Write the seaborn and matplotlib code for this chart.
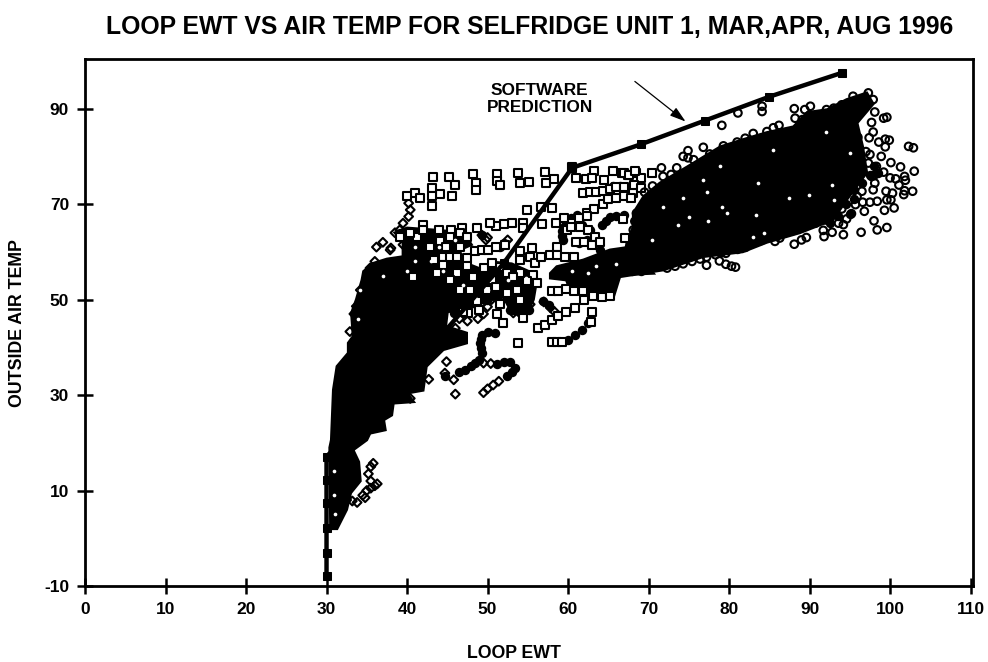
import matplotlib
matplotlib.use("Agg")
import matplotlib.pyplot as plt
import pandas as pd
import seaborn as sns

TITLE = "LOOP EWT VS AIR TEMP FOR SELFRIDGE UNIT 1, MAR,APR, AUG 1996"
X_TICKS = list(range(0, 111, 10))
Y_TICKS = list(range(-10, 91, 20))

# software prediction curve
pred_x = [30, 30, 30, 30, 30, 30, 44, 52, 60.5, 69, 77, 85, 94]
pred_y = [-8, -3.1, 2.1, 7.4, 12.2, 17.1, 42, 57.6, 77.6, 82.5, 87.5, 92.5, 97.5]

# saturated regions, where the overlapping markers merge into solid black (outlines)
mar_sat = [(30.4, 19), (30.6, 20.6), (30.85, 31.1), (31.3, 36), (32.7, 38.8), (32.7, 40.9), (33.3, 42.3), (33.1, 47.2),
           (33.7, 50), (34.4, 54.1), (34.6, 55.9), (35.8, 57.6), (37.5, 58.5), (39.5, 59), (39.5, 62.5), (41.6, 62.5),
           (42.9, 58.3), (43, 54.8), (46.6, 54.1), (45.8, 50), (45, 47.2), (44.8, 44.4), (47.4, 43), (47.4, 40.9),
           (44.5, 39.5), (42.4, 36), (42, 31), (40, 30.4), (40.8, 28.6), (38.3, 28.3), (38.1, 25.8), (37.1, 24.8),
           (37.3, 22.7), (35.4, 22), (35, 20.6), (33.3, 18.5), (34, 16), (34.2, 12), (33, 9.5), (32.5, 6), (31.3, 2),
           (30.5, 2)]
apr_sat = [(57.8, 55.5), (58.6, 56.9), (61.9, 58.3), (65.2, 60.4), (68.1, 61.1), (70.6, 55.5), (66.5, 55.2), (65.6, 50.3),
           (64, 50.3), (63.6, 51.5), (60.2, 52.2), (59.8, 54.1), (57.8, 54.5)]
aug_sat = [(66.5, 54.8), (71.8, 56.2), (76.8, 59), (81.7, 60), (84.7, 62), (88.8, 64), (92.9, 66.7), (94.6, 70.9),
           (97.1, 76.6), (96.6, 82), (95.9, 87), (97.9, 91), (97.1, 93.3), (94.6, 91.9), (92.2, 89.8), (89.7, 89.2),
           (88, 86.2), (84.7, 85), (81.7, 83.5), (78.9, 82), (74.8, 77.8), (71.4, 74.4), (69.4, 71.6), (68.1, 68.1),
           (68.1, 65.3), (67.3, 61.8)]
# crowded mixed regions: black with pale squares lying on top
mid_low = [(42.9, 58), (46, 58.5), (49, 56.5), (51, 57.8), (53, 57.5), (55, 56), (56, 53), (55.7, 50), (55, 47.5),
           (53, 47.3), (52, 50.5), (49.5, 49.5), (47, 47.5), (45, 47.5)]
mid_top = [(38.5, 64), (40, 65), (44, 64.5), (47, 64), (48, 61.5), (46, 60), (43, 59.5), (41, 59)]

# small unfilled gaps inside the saturated regions
gaps = [(77.2, 72.5), (77.4, 66.4), (79.1, 69.5), (87.4, 71.3), (89.9, 72), (92.8, 74), (83.6, 74.4), (73.7, 65.7),
        (70.4, 62.5), (74.3, 71.3), (75, 67.4), (71.8, 69.5), (95, 80.7), (93, 70.9), (83, 63.2), (84.3, 64),
        (83.4, 67.8), (79.7, 68.1), (76.8, 75.1), (78.9, 77.9), (92.1, 85.2), (85.5, 81.4), (30.9, 14), (30.9, 9),
        (31, 5), (60.5, 56), (63.5, 57), (66, 57.5), (62.5, 55.5), (37, 55), (34.2, 52), (33.9, 46), (40, 56), (41, 58),
        (43, 58), (44.5, 56), (47, 53), (50, 52), (48.5, 50.5), (52.5, 54), (54.8, 54.5), (41, 61), (44, 61), (46, 62.5)]

# strings and patches so crowded that the markers read as solid
dark_pts = [(46.4, 34.9), (47.2, 35.3), (48, 36), (48.5, 36.7), (48.9, 37.4), (49.3, 38.8), (49.2, 39.8), (49.1, 40.9),
            (49.2, 41.8), (49.3, 42.6), (50.1, 43.3), (50.9, 43), (51.2, 36.6), (52, 37), (52.8, 37), (53.4, 35.6),
            (53, 34.8), (52.4, 33.9), (44.7, 34), (39.1, 63.9), (40, 61.8), (41.2, 63.2), (42.4, 61.1), (43.7, 62.9),
            (44.9, 61.8), (46.6, 62.5), (49.3, 63.6), (43.7, 57.6), (44.9, 57.6), (46.6, 56.9), (48.2, 55.5), (46.6, 53.5),
            (48.2, 52), (49.9, 53.5), (50.7, 56.2), (52, 57.6), (51.6, 53.5), (52.8, 54.8), (54, 52.8), (54.9, 51.4),
            (53.6, 49.3), (54.5, 48.6), (53.2, 47.9), (55.1, 47.9), (49.9, 50), (47.4, 49.3), (45.8, 47.2), (44.9, 48.6),
            (52, 61.8), (51.6, 61.1), (64.2, 65.7), (64.7, 66.5), (65.2, 67.4), (66, 67.6), (66.9, 67.8), (59.2, 64.3),
            (59.5, 65.2), (59.8, 66), (59.3, 63.4), (59.4, 62.5), (60.4, 67), (61.1, 67.8), (61.7, 65.7), (62.7, 64.6),
            (63.3, 63.2), (61.3, 61.8), (62.3, 62.5), (64, 60.4), (65.6, 73.7), (66.5, 73.7), (67.5, 72.3), (60, 41.6),
            (60.9, 42.6), (61.7, 43.7), (62.5, 45), (52.8, 47.9), (54, 49.3), (54.9, 49.3), (54, 47.9), (57.6, 48.9),
            (56.9, 49.6), (95.5, 75), (96, 77), (95.5, 73), (96.5, 74.5), (97.5, 76), (98, 78), (98.5, 76.5), (94.5, 70),
            (95, 68), (93.5, 67.5), (95.5, 71), (88, 64.5), (86, 65), (84, 62.5), (81, 60.5), (82, 61), (90, 66), (91.5, 68),
            (92.5, 66), (79, 60), (75, 59), (71.5, 57.5), (69, 56), (68, 56)]

# March: diamonds
mar_pts = [(35.8, 15.7), (35.5, 15), (35.2, 13.5), (35.5, 12), (36, 11), (36.3, 11.4), (35.5, 10.5), (35, 10), (33.2, 7.8),
           (33.8, 7.5), (32.5, 8), (34.5, 9), (34.8, 8.5), (37, 62), (36.2, 61), (37.9, 60.4), (35.4, 56.6), (36, 58),
           (34.2, 52), (32.9, 43.3), (33.7, 48.6), (33.4, 47), (39.1, 64.6), (38.5, 64), (39.5, 66), (40.2, 67.4),
           (40.4, 68.8), (40.2, 70.2), (38, 60.8), (39.5, 61.5), (40.5, 60), (41.5, 60.5), (42.5, 59), (43, 60),
           (43.8, 57), (45, 56), (46, 54), (46.5, 50), (47.5, 49), (48.5, 50.5), (49.5, 50), (50.5, 50), (51, 51),
           (50, 48.5), (49.5, 47), (48.8, 46), (47.5, 45.5), (46.5, 46), (46, 44), (53.2, 47.2), (53.8, 47.5), (54.4, 48),
           (55, 48.5), (55.3, 49), (54.6, 47.3), (53.6, 48.5), (54.2, 49), (57, 49.5), (57.8, 48.3), (58.3, 47.5),
           (52.5, 62.5), (49.3, 63.5), (49.8, 62.5), (50, 63), (49.5, 36.7), (50.4, 36.6), (50.7, 32.1), (49.5, 30.5),
           (50, 31.3), (51.4, 32.9), (44.7, 34.6), (45.8, 33.2), (42.7, 33.3), (46, 30.2), (40.4, 29.3), (44.9, 37)]

# April: squares
apr_pts = [(43.2, 75.7), (45.2, 75.7), (46, 74), (45.6, 71.6), (44.1, 72.2), (43.1, 73.4), (43.1, 71.6), (43.1, 69.7),
           (41, 72.4), (40, 71.6), (41.6, 71.3), (48.2, 76.4), (48.6, 74.4), (48.6, 73), (51.2, 76.4), (51.2, 74.9),
           (51.6, 74), (53.8, 76.6), (54, 74.5), (55.2, 74.6), (57.1, 76.8), (57.3, 74.5), (58.3, 75.2), (60.5, 77.8),
           (61, 75.5), (62.2, 75.2), (63.2, 77), (63, 75.5), (64.5, 75), (65.6, 77), (66.7, 76.6), (67.5, 76), (68.4, 76.5),
           (70.4, 76.5), (69, 75.5), (61.9, 72.3), (62.7, 72.5), (63.5, 72.5), (64.4, 72.8), (65.2, 73.2), (66, 73.5),
           (67, 73.5), (68.1, 72.3), (68.2, 73.9), (69, 73.4), (66.9, 71.8), (67.8, 71.3), (62.4, 68.2), (63.2, 69),
           (64.3, 70), (65, 71), (65.9, 71.3), (54.9, 68.8), (56.6, 69.5), (58, 69.2), (56.8, 65.9), (54.4, 66), (54.4, 65),
           (53, 66), (52, 65.8), (51, 65.4), (50.3, 66), (48.7, 65), (46.8, 65), (45.5, 64.6), (44, 64.6), (42, 65.7),
           (58.5, 66), (59.5, 67), (60.5, 66), (61.3, 67), (62.3, 67.5), (59.9, 64.6), (60.4, 65.3), (61.5, 65.3),
           (62.5, 64.6), (63.3, 63.2), (61, 62), (62, 62), (63, 61.5), (64, 62), (56.3, 44), (57.1, 44.7), (58, 45.8),
           (58.8, 46.5), (59.8, 47.5), (60.9, 48.3), (62, 50), (58, 51.8), (58.8, 51.9), (59.8, 52.2), (60.7, 51.7),
           (61.9, 51.7), (63.1, 50.7), (64.2, 50.5), (65.2, 50.7), (58, 41.2), (58.6, 41.2), (59.2, 41.2), (62.8, 45.4),
           (63, 47.5), (53.8, 41), (51.9, 45), (54.4, 46.2), (51.2, 47), (51.5, 49), (44.5, 59), (45.3, 59), (46.2, 59),
           (47.4, 58.7), (48.5, 60.1), (49.3, 60.4), (50.1, 60.4), (51.1, 61.1), (52.2, 61.5), (54, 60.1), (55.5, 60.8),
           (55.3, 59), (54, 58.3), (55.9, 57.6), (56.7, 59), (57.8, 59.4), (58.6, 61.1), (58.6, 59.4), (59.6, 59), (60.7, 59),
           (51.6, 56.9), (52.4, 55.5), (54, 55.5), (55.7, 55.2), (54.9, 53.8), (56.1, 53.4), (53.2, 54.8), (50.5, 54.1),
           (51.1, 52.7), (52.4, 51.4), (53.6, 52), (54, 50), (48.7, 49.6), (47.6, 47.2), (47, 47.5), (49, 47.8), (49.9, 52),
           (47.8, 52), (46.2, 55.5), (47.4, 57), (44.5, 57.3), (42.9, 61.1), (44.1, 62.2), (45.3, 63.2), (46.6, 64),
           (47.4, 63.2), (44.9, 61.1), (46.6, 61.1), (43.3, 58.3), (40.8, 54.8), (43.7, 55.5), (45.3, 54.1), (46.6, 52),
           (48.2, 54.8), (49.5, 56.6), (50.5, 57.6), (41.2, 63.2), (42, 64.6), (40.4, 64), (39.1, 63.2), (66.9, 76.5),
           (67.6, 76.2), (68.3, 76.9), (67.1, 62.9), (66.8, 66.8)]

# August: circles
aug_pts = [(103, 76.9), (102.3, 82.1), (102.9, 81.8), (101.3, 77.8), (100.1, 78.7), (101.8, 75.8), (101.9, 75), (100.7, 75.3),
           (100, 75.5), (101.1, 74), (102.8, 72.7), (101.7, 72), (101.8, 72.8), (100.3, 72.3), (99.5, 72.7), (99.6, 70.9),
           (100.1, 70.9), (100.5, 69.2), (99.3, 68.7), (98, 66.5), (98.4, 64.6), (99.6, 65.1), (96.4, 64.1), (94.2, 63.6),
           (92.8, 64.1), (91.7, 64.5), (91.8, 63.2), (98.4, 70.6), (97.5, 70.4), (96.6, 70.4), (95.7, 69.9), (95.9, 71.6),
           (96.5, 72.7), (97.9, 73), (98.9, 80), (99.2, 76.7), (99.4, 82), (98.6, 83), (99.4, 83.6), (99.9, 83.4),
           (97.4, 83.9), (97.9, 85.1), (97.7, 87.1), (99.2, 88), (99.6, 88.2), (98.1, 89.3), (97.5, 80.4), (97.3, 78.6),
           (98.3, 77.9), (97.7, 75.8), (98.1, 74.4), (84.1, 90.5), (84.1, 89.4), (81.1, 89.1), (79.1, 86.5), (88.1, 90),
           (88.2, 88), (89.1, 87.7), (90.1, 90.5), (89.4, 89.8), (76.8, 81.9), (74.9, 81.2), (77.6, 80.5), (71.6, 77.6),
           (74.3, 80), (74.9, 79.7), (75.6, 79.3), (77.2, 57.2), (78.8, 58.1), (79.6, 57.4), (80.3, 57), (80.8, 56.8),
           (79.6, 59.7), (78.3, 59.4), (77.2, 58.9), (76.4, 58.5), (75.4, 58), (74.3, 57.5), (73.3, 57), (72.3, 56.6),
           (88.1, 61.6), (89.6, 63), (89, 62.5), (86.3, 62.9), (85.7, 62.2), (87.4, 64.3), (94.2, 65.7), (94.6, 66.9),
           (93.6, 66), (93, 68), (92, 66.7), (90.7, 66), (84.7, 85.2), (85.5, 86), (86.2, 86.5), (83, 84.8), (82, 83.8),
           (81, 83), (79.3, 82.2), (92.1, 89.8), (93, 90.1), (94, 90.8), (95.4, 92.6), (97.3, 93.3), (97.9, 91.9),
           (68.5, 68.1), (68.3, 66.4), (68.1, 64.6), (73.5, 77.6), (71.8, 75.8), (95, 87.8), (96, 84), (97, 81), (98, 76),
           (96.8, 68.5), (95.2, 68), (94, 69), (78, 79.5), (80, 81), (72.8, 76.2), (70.5, 73.8), (69.5, 72.5)]


def frame(points, month):
    return pd.DataFrame(points, columns=["ewt", "air"]).assign(month=month)


sns.set_theme(style="white")
plt.rcParams["font.family"] = ["Liberation Sans", "DejaVu Sans"]
plt.rcParams["font.weight"] = "bold"
plt.rcParams["axes.unicode_minus"] = False
plt.rcParams["text.color"] = "black"

fig = plt.figure(figsize=(9.88, 6.62), dpi=100)
ax = fig.add_axes([85 / 988, 1 - 586 / 662, (973 - 85) / 988, (586 - 59) / 662])

for poly in (mar_sat, apr_sat, aug_sat, mid_low, mid_top):
    ax.fill(*zip(*poly), color="black", lw=2, zorder=2)

sns.scatterplot(data=frame(dark_pts, "dense"), x="ewt", y="air", marker="o", s=46, color="black", linewidth=0,
                ax=ax, zorder=2, legend=False)

sns.scatterplot(data=frame(mar_pts, "Mar"), x="ewt", y="air", marker="D", s=20, facecolor="none",
                edgecolor="black", linewidth=1.5, ax=ax, zorder=3, legend=False)
sns.scatterplot(data=frame(apr_pts, "Apr"), x="ewt", y="air", marker="s", s=30, facecolor="white",
                edgecolor="black", linewidth=1.5, ax=ax, zorder=3, legend=False)
sns.scatterplot(data=frame(aug_pts, "Aug"), x="ewt", y="air", marker="o", s=30, facecolor="none",
                edgecolor="black", linewidth=1.5, ax=ax, zorder=3, legend=False)

sns.scatterplot(data=frame(gaps, "gap"), x="ewt", y="air", marker="o", s=7, color="white", linewidth=0,
                ax=ax, zorder=4, legend=False)
sns.lineplot(x=pred_x, y=pred_y, color="black", lw=3.2, marker="s", markersize=6, markeredgecolor="black",
             sort=False, estimator=None, ax=ax, zorder=5)

ax.annotate("", xy=(74.6, 87.3), xytext=(68.3, 95.7), zorder=6,
            arrowprops=dict(arrowstyle="-|>,head_length=0.8,head_width=0.25", color="black", lw=0.9,
                            shrinkA=0, shrinkB=0))
ax.text(56.5, 92.1, "SOFTWARE\nPREDICTION", ha="center", va="center", fontsize=12.4, fontweight="bold",
        linespacing=1.15, color="black")

ax.set_xlim(0, 110.3)
ax.set_ylim(-10, 100.4)
ax.set_xticks(X_TICKS)
ax.set_yticks(Y_TICKS)
ax.tick_params(axis="both", direction="inout", length=11, width=1.8, labelsize=12.5, color="black", pad=6,
               bottom=True, left=True, labelcolor="black")
for lab in ax.get_xticklabels() + ax.get_yticklabels():
    lab.set_fontweight("bold")
for side in ax.spines.values():
    side.set_visible(True)
    side.set_color("black")
    side.set_linewidth(2)

ax.set_xlabel("")
ax.set_ylabel("")
fig.text(514 / 988, 1 - 654 / 662, "LOOP EWT", ha="center", va="center", fontsize=12.8, fontweight="bold", color="black")
fig.text(18 / 988, 1 - 323 / 662, "OUTSIDE AIR TEMP", rotation=90, ha="center", va="center", fontsize=12.8,
         fontweight="bold", color="black")
fig.text(530 / 988, 1 - 27 / 662, TITLE, ha="center", va="center", fontsize=17.8, fontweight="bold", color="black")

fig.savefig("out.png", dpi=100, facecolor="white")
